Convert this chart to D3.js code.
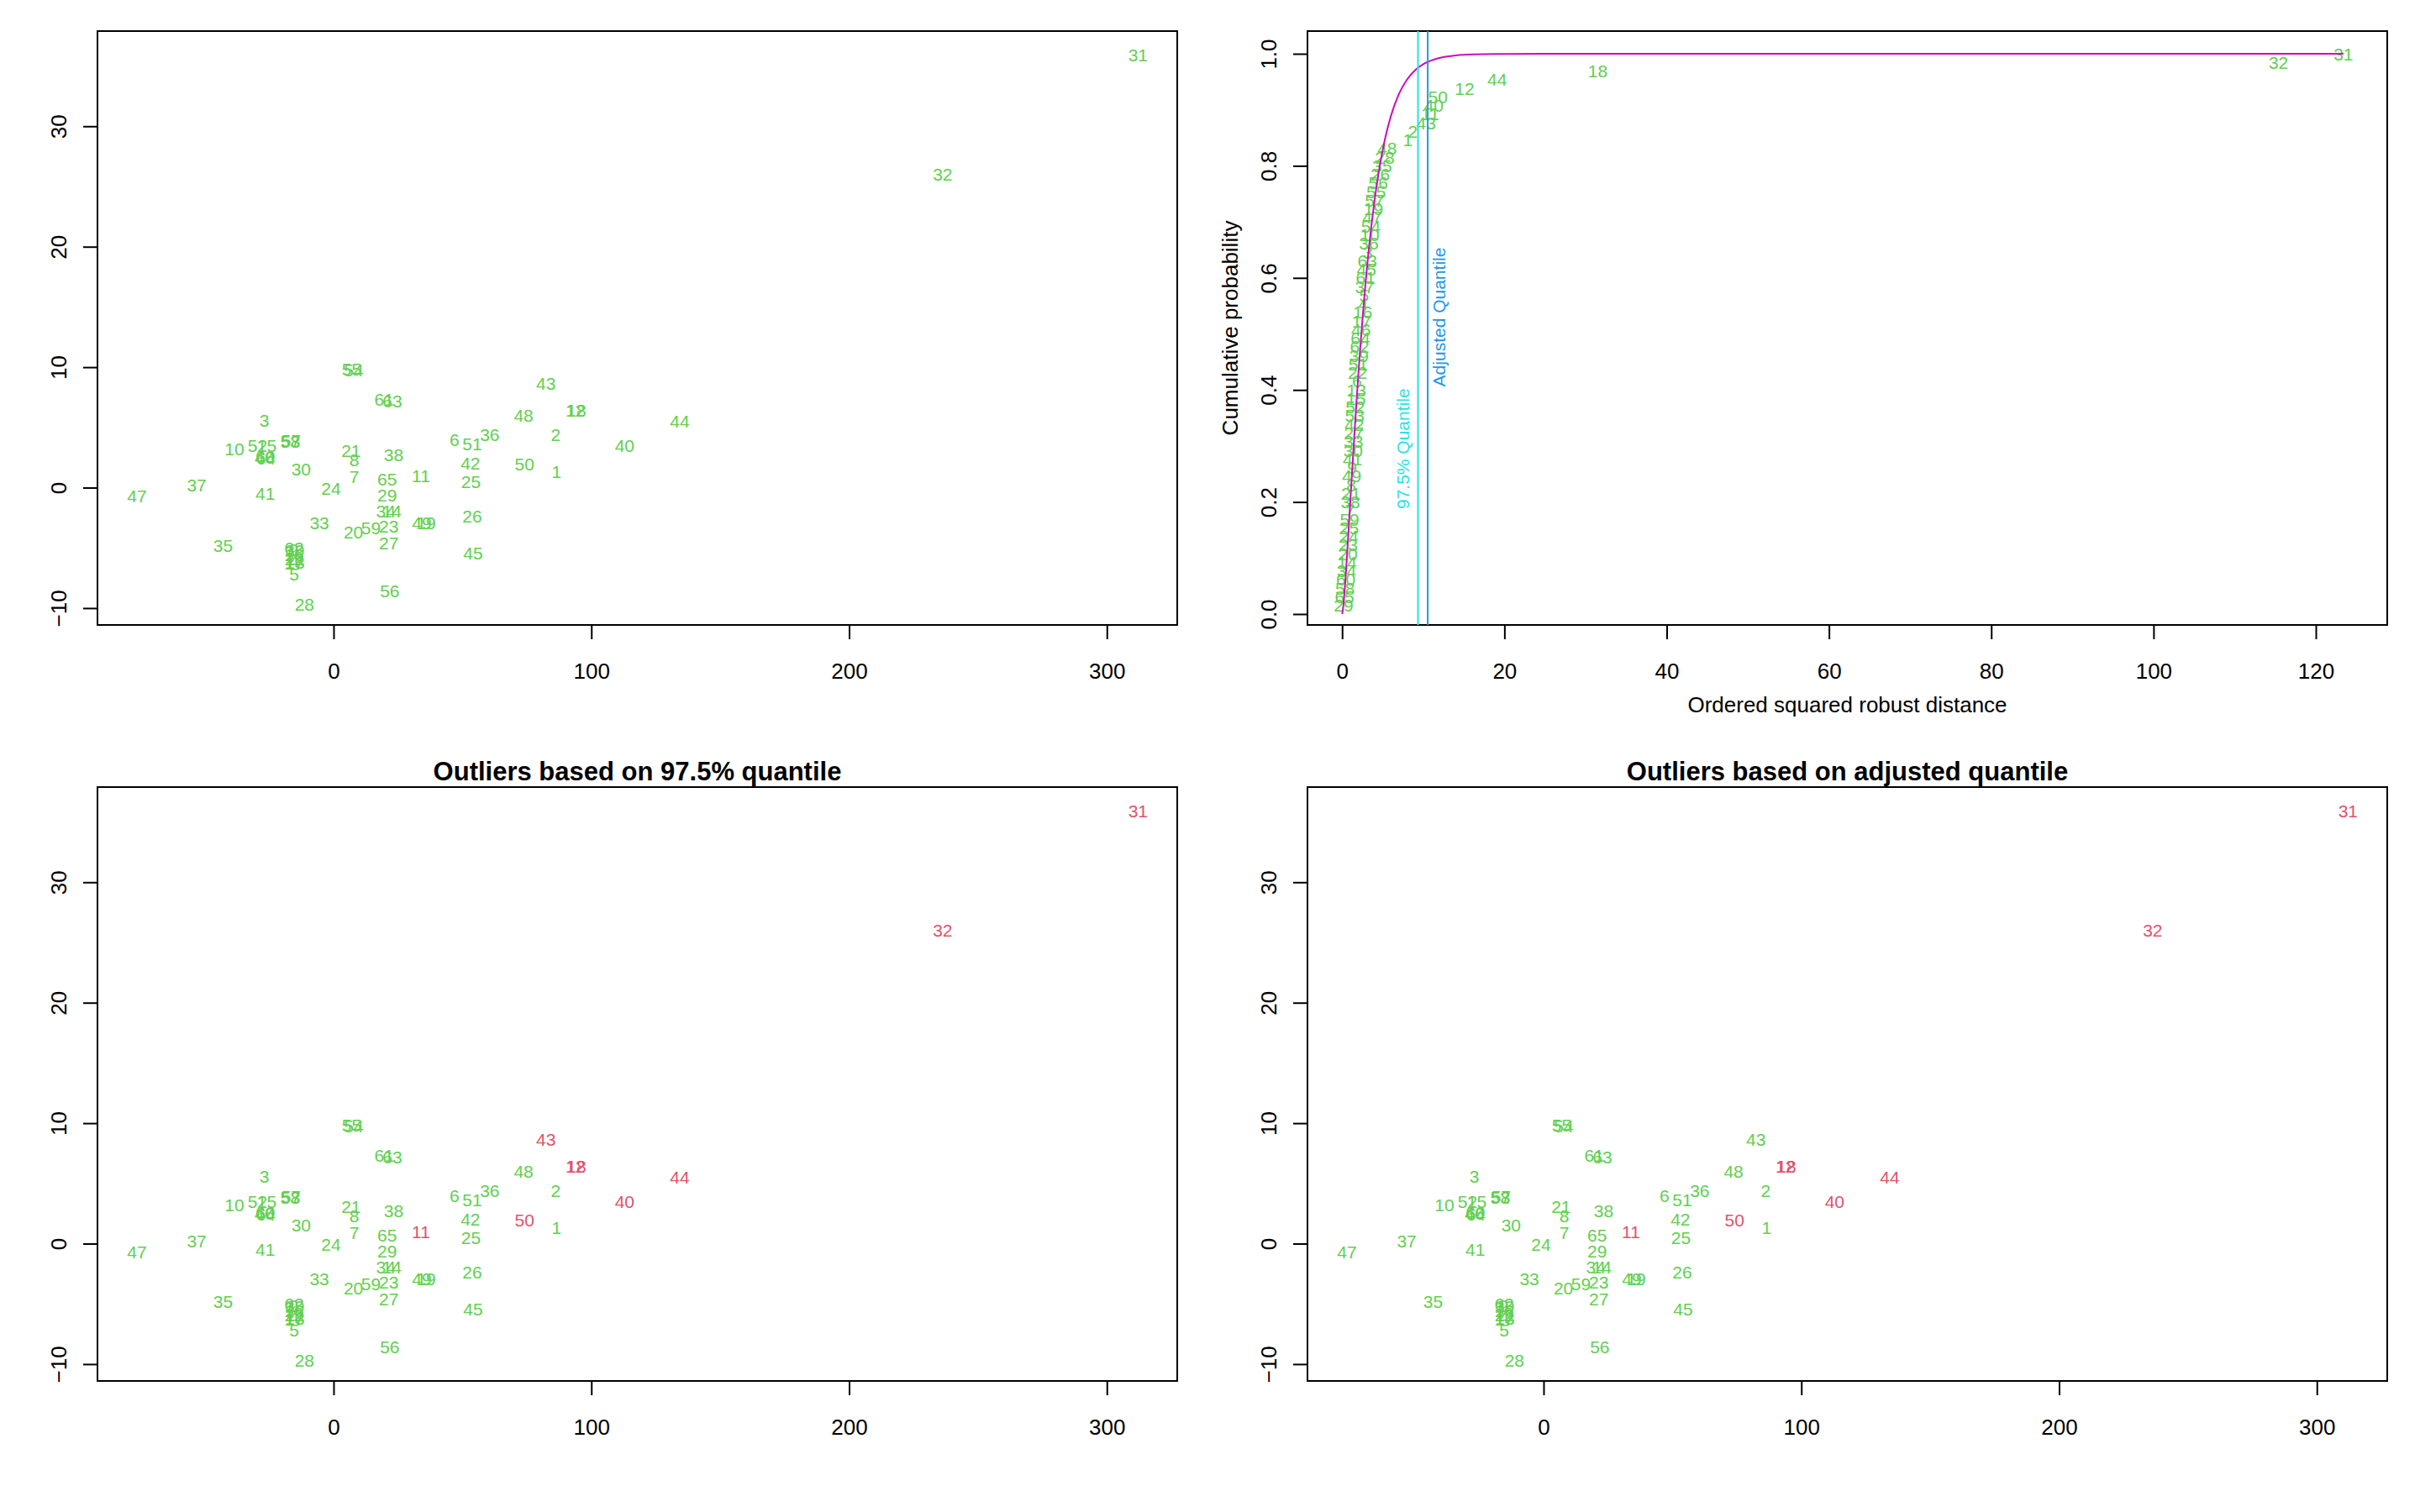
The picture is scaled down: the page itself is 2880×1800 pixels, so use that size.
<!DOCTYPE html>
<html><head><meta charset="utf-8">
<script src="https://cdn.jsdelivr.net/npm/d3@7"></script>
<style>
body{margin:0;background:#fff}
svg{display:block}
text{font-family:"Liberation Sans",Arial,Helvetica,sans-serif}
</style>
</head><body>
<script>
// ---------- data ----------
const obsLabels = d3.range(1, 66).map(String);
const obsX = [86.5,86.2,-26.9,-15.3,-15.3,46.9,8.0,8.0,-15.5,-38.5,
  33.9,93.8,-15.0,22.6,-25.9,-15.3,-15.3,94.2,35.9,7.7,
  6.8,-15.2,21.4,-1.0,53.3,53.8,21.4,-11.3,20.8,-12.6,
  312.1,236.3,-5.5,20.3,-42.9,60.6,-53.1,23.3,-15.1,112.9,
  -26.5,53.1,82.4,134.3,54.1,-26.8,-76.3,73.7,34.2,74.1,
  53.8,-29.5,-16.9,7.8,7.0,21.8,-16.5,-16.7,14.5,-26.5,
  19.6,-15.3,22.8,-26.3,20.8];
const obsY = [1.33,4.42,5.58,-6.05,-7.16,3.95,0.93,2.28,-5.15,3.19,
  0.98,6.44,-6.2,-1.98,3.49,-5.55,-6.3,6.44,-2.91,-3.72,
  3.09,-5.95,-3.21,-0.07,0.51,-2.37,-4.58,-9.70,-0.63,1.51,
  35.9,26.0,-2.91,-1.98,-4.81,4.37,0.19,2.72,-5.2,3.49,
  -0.51,2.02,8.65,5.5,-5.47,2.5,-0.70,5.98,-2.91,1.98,
  3.6,3.49,3.84,9.75,9.8,-8.56,3.88,3.84,-3.37,2.55,
  7.33,-5.05,7.16,2.45,0.70];

// ordered squared robust distances (ascending) and the observation at each rank
const rankLabels = ["29","65","58","60","34","14","20","23","24","25",
  "59","7","38","21","8","49","9","41","30","33",
  "27","42","53","52","15","13","6","22","51","39",
  "62","64","46","17","16","4","5","37","61","45",
  "63","3","36","10","54","47","19","57","55","56",
  "26","35","28","48","1","2","43","11","40","50",
  "12","44","18","32","31"];
const rankDist = [0.18,0.30,0.36,0.45,0.55,0.60,0.70,0.74,0.80,0.86,
  0.92,0.97,1.02,1.08,1.12,1.18,1.22,1.30,1.36,1.40,
  1.45,1.50,1.55,1.62,1.70,1.76,1.82,1.90,1.98,2.08,
  2.16,2.25,2.32,2.40,2.52,2.60,2.70,2.78,2.90,3.00,
  3.10,3.18,3.28,3.40,3.55,3.70,3.85,4.00,4.20,4.45,
  4.70,4.95,5.25,5.55,8.1,8.7,10.35,10.85,11.3,11.8,
  15.1,19.1,31.5,115.4,123.4];

// theoretical chi-square (3 df) cumulative curve, as drawn
const curveX = [0,0.1,0.2,0.3,0.4,0.5,0.6,0.8,1.0,1.2,1.4,1.6,1.8,2.0,2.2,2.4,2.6,2.8,3.0,3.3,3.6,4.0,4.5,5.0,5.5,6.0,7,8,9,10,12,14,16,20,30,123.4];
const curveY = [0,0.0082,0.0224,0.040,0.0598,0.0811,0.1036,0.1505,0.1987,0.2469,0.2943,0.3406,0.3851,0.4276,0.4681,0.5064,0.5423,0.576,0.6084,0.6527,0.692,0.7385,0.7877,0.8282,0.8612,0.8884,0.9281,0.9540,0.9707,0.9814,0.9926,0.9971,0.9989,0.9998,1.0,1.0];

const q975 = 9.35;
const qAdj = 10.55;

const scatterXTicks = [0,100,200,300];
const scatterYTicks = [-10,0,10,20,30];
const distXTicks = [0,20,40,60,80,100,120];
const probYTicks = [0,0.2,0.4,0.6,0.8,1.0];

const titles = ["Outliers based on 97.5% quantile","Outliers based on adjusted quantile"];
const xLabTR = "Ordered squared robust distance";
const yLabTR = "Cumulative probability";
const q975Text = "97.5% Quantile";
const qAdjText = "Adjusted Quantile";

// ---------- style ----------
const GREEN = "#61D04F", RED = "#DF536B", BLUE = "#2297E6", CYAN = "#28E2E5", MAGENTA = "#CD0BBC";
const W = 2880, H = 1800;

const svg = d3.select("body").append("svg").attr("width", W).attr("height", H)
  .style("background", "#fff");

const distByLabel = {};
rankLabels.forEach((l, i) => distByLabel[l] = rankDist[i]);

function axes(g, x, y, xt, yt, box, yfmt) {
  const [x0, x1, y0, y1] = box;
  g.append("rect").attr("x", x0).attr("y", y0).attr("width", x1 - x0).attr("height", y1 - y0)
    .attr("fill", "none").attr("stroke", "#000").attr("stroke-width", 2);
  const xa = g.append("g").attr("transform", `translate(0,${y1})`)
    .call(d3.axisBottom(x).tickValues(xt).tickSize(17).tickPadding(20).tickFormat(d3.format("d")));
  const ya = g.append("g").attr("transform", `translate(${x0},0)`)
    .call(d3.axisLeft(y).tickValues(yt).tickSize(17).tickPadding(0).tickFormat(yfmt));
  [xa, ya].forEach(a => {
    a.select(".domain").remove();
    a.selectAll(".tick line").attr("stroke", "#000").attr("stroke-width", 2);
    a.selectAll("text").attr("fill", "#000").style("font-size", "26px")
      .style("font-family", '"Liberation Sans",Arial,sans-serif');
  });
  xa.selectAll("text").attr("dy", null).attr("y", 55).attr("dominant-baseline", "central");
  ya.selectAll("text").attr("x", null).attr("dy", null)
    .attr("text-anchor", "middle").attr("dominant-baseline", "central")
    .attr("transform", "translate(-46,0) rotate(-90)");
}

// ---------- scatter panels ----------
function scatter(ox, oy, colorFn, title) {
  const box = [116 + ox, 1401 + ox, 37 + oy, 744 + oy];
  const x = d3.scaleLinear().domain([-91.6, 327.3]).range([box[0], box[1]]);
  const y = d3.scaleLinear().domain([-11.4, 37.9]).range([box[3], box[2]]);
  const g = svg.append("g");
  axes(g, x, y, scatterXTicks, scatterYTicks, box, d3.format("d"));
  g.append("g").selectAll("text").data(obsLabels).join("text")
    .attr("x", (d, i) => x(obsX[i])).attr("y", (d, i) => y(obsY[i]))
    .attr("text-anchor", "middle").attr("dominant-baseline", "central")
    .style("font-size", "21px").attr("fill", d => colorFn(d)).text(d => d);
  if (title) {
    g.append("text").attr("x", (box[0] + box[1]) / 2).attr("y", box[2] - 8)
      .attr("text-anchor", "middle").style("font-size", "31px").style("font-weight", "bold")
      .attr("fill", "#000").text(title);
  }
}
scatter(0, 0, () => GREEN, null);
scatter(0, 900, d => distByLabel[d] > q975 ? RED : GREEN, titles[0]);
scatter(1440, 900, d => distByLabel[d] > qAdj ? RED : GREEN, titles[1]);

// ---------- distance panel ----------
(function () {
  const box = [1556, 2841, 37, 744];
  const x = d3.scaleLinear().domain([-4.27, 128.8]).range([box[0], box[1]]);
  const y = d3.scaleLinear().domain([-0.0195, 1.0405]).range([box[3], box[2]]);
  const g = svg.append("g");
  const clip = svg.append("clipPath").attr("id", "trclip");
  clip.append("rect").attr("x", box[0]).attr("y", box[2]).attr("width", box[1] - box[0]).attr("height", box[3] - box[2]);
  axes(g, x, y, distXTicks, probYTicks, box, d3.format(".1f"));
  const n = rankLabels.length;
  g.append("g").selectAll("text").data(rankLabels).join("text")
    .attr("x", (d, i) => x(rankDist[i])).attr("y", (d, i) => y((i + 1) / n))
    .attr("text-anchor", "middle").attr("dominant-baseline", "central")
    .style("font-size", "21px").attr("fill", GREEN).text(d => d);
  const pts = curveX.map((v, i) => [v, curveY[i]]);
  g.append("path").datum(pts)
    .attr("d", d3.line().x(d => x(d[0])).y(d => y(d[1])).curve(d3.curveMonotoneX))
    .attr("fill", "none").attr("stroke", MAGENTA).attr("stroke-width", 2);
  g.append("line").attr("x1", x(q975)).attr("x2", x(q975)).attr("y1", box[2]).attr("y2", box[3])
    .attr("stroke", CYAN).attr("stroke-width", 2);
  g.append("line").attr("x1", x(qAdj)).attr("x2", x(qAdj)).attr("y1", box[2]).attr("y2", box[3])
    .attr("stroke", BLUE).attr("stroke-width", 2);
  g.append("text").attr("transform", `translate(${x(7.5)},${y(0.295)}) rotate(-90)`)
    .attr("text-anchor", "middle").attr("dominant-baseline", "central")
    .style("font-size", "21px").attr("fill", CYAN).text(q975Text);
  g.append("text").attr("transform", `translate(${x(11.9)},${y(0.53)}) rotate(-90)`)
    .attr("text-anchor", "middle").attr("dominant-baseline", "central")
    .style("font-size", "21px").attr("fill", BLUE).text(qAdjText);
  g.append("text").attr("x", (box[0] + box[1]) / 2).attr("y", 839)
    .attr("text-anchor", "middle").attr("dominant-baseline", "central")
    .style("font-size", "26px").attr("fill", "#000").text(xLabTR);
  g.append("text").attr("transform", `translate(${box[0] - 92},${(box[2] + box[3]) / 2}) rotate(-90)`)
    .attr("text-anchor", "middle").attr("dominant-baseline", "central")
    .style("font-size", "26px").attr("fill", "#000").text(yLabTR);
})();
</script>
</body></html>
